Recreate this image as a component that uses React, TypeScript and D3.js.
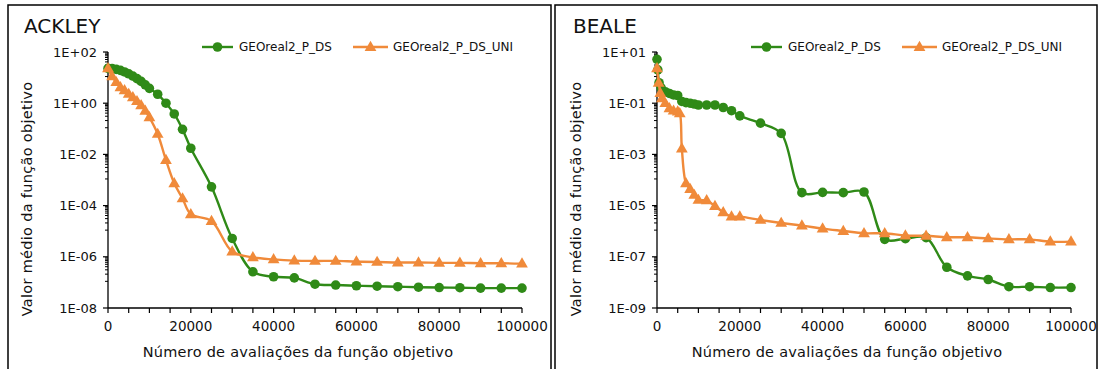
import React from "react";
import * as d3 from "d3";

// ---------- DATA ----------
const seriesNames = ["GEOreal2_P_DS", "GEOreal2_P_DS_UNI"];

const ackleyDsX = [0, 1000, 2000, 3000, 4000, 5000, 6000, 7000, 8000, 9000, 10000, 12000, 14000, 16000, 18000, 20000, 25000, 30000, 35000, 40000, 45000, 50000, 55000, 60000, 65000, 70000, 75000, 80000, 85000, 90000, 95000, 100000];
const ackleyDsY = [22.9, 22.4, 20.9, 19.1, 16.6, 14.1, 11.5, 9.1, 7.1, 5.2, 3.8, 2.24, 1.0, 0.38, 0.095, 0.0174, 5.4e-4, 5.2e-6, 2.6e-7, 1.66e-7, 1.5e-7, 8.5e-8, 7.9e-8, 7.4e-8, 7.1e-8, 6.8e-8, 6.5e-8, 6.3e-8, 6.2e-8, 6.0e-8, 6.0e-8, 6.0e-8];

const ackleyUniX = [0, 1000, 2000, 3000, 4000, 5000, 6000, 7000, 8000, 9000, 10000, 12000, 14000, 16000, 18000, 20000, 25000, 30000, 35000, 40000, 45000, 50000, 55000, 60000, 65000, 70000, 75000, 80000, 85000, 90000, 95000, 100000];
const ackleyUniY = [22.9, 11.2, 6.6, 4.2, 3.2, 2.3, 1.7, 1.2, 0.83, 0.5, 0.28, 0.063, 6.0e-3, 7.4e-4, 1.9e-4, 4.6e-5, 2.5e-5, 1.6e-6, 9.5e-7, 7.9e-7, 7.1e-7, 6.9e-7, 6.9e-7, 6.5e-7, 6.3e-7, 6.0e-7, 6.0e-7, 5.8e-7, 5.8e-7, 5.6e-7, 5.6e-7, 5.4e-7];

const bealeDsX = [0, 200, 500, 1000, 2000, 3000, 4000, 5000, 6000, 7000, 8000, 9000, 10000, 12000, 14000, 16000, 18000, 20000, 25000, 30000, 35000, 40000, 45000, 50000, 55000, 60000, 65000, 70000, 75000, 80000, 85000, 90000, 95000, 100000];
const bealeDsY = [5.2, 2.0, 0.63, 0.4, 0.28, 0.24, 0.21, 0.2, 0.117, 0.105, 0.1, 0.093, 0.085, 0.085, 0.085, 0.068, 0.051, 0.032, 0.0166, 6.6e-3, 3.2e-5, 3.3e-5, 3.2e-5, 3.4e-5, 4.8e-7, 5.1e-7, 5.6e-7, 3.9e-8, 1.8e-8, 1.3e-8, 6.8e-9, 6.8e-9, 6.3e-9, 6.3e-9];

const bealeUniX = [0, 400, 800, 1200, 2000, 3000, 4000, 5000, 5500, 6000, 7000, 8000, 9000, 10000, 12000, 14000, 16000, 18000, 20000, 25000, 30000, 35000, 40000, 45000, 50000, 55000, 60000, 65000, 70000, 75000, 80000, 85000, 90000, 95000, 100000];
const bealeUniY = [2.3, 0.63, 0.25, 0.155, 0.1, 0.063, 0.051, 0.047, 0.04, 1.7e-3, 7.4e-5, 4.4e-5, 2.6e-5, 1.66e-5, 1.6e-5, 9.5e-6, 5.5e-6, 3.7e-6, 3.7e-6, 2.75e-6, 2.1e-6, 1.66e-6, 1.26e-6, 1.02e-6, 8.3e-7, 8.3e-7, 6.8e-7, 6.6e-7, 5.8e-7, 5.8e-7, 5.2e-7, 4.8e-7, 4.8e-7, 3.9e-7, 3.9e-7];

const xTickLabels = [0, 20000, 40000, 60000, 80000, 100000];
const ackleyYTicks = [1e2, 1e0, 1e-2, 1e-4, 1e-6, 1e-8];
const bealeYTicks = [1e1, 1e-1, 1e-3, 1e-5, 1e-7, 1e-9];

// ---------- STYLE ----------
const GREEN = "#2f8a17";
const ORANGE = "#f08a3a";
const FONT = "'DejaVu Sans', sans-serif";

type Series = { xs: number[]; ys: number[]; color: string; marker: "circle" | "triangle" };

function fmtExp(v: number) {
  const e = Math.round(Math.log10(v));
  return `1E${e >= 0 ? "+" : "-"}${String(Math.abs(e)).padStart(2, "0")}`;
}

const triPath = d3.symbol().type(d3.symbolTriangle).size(60)() as string;

function Marker({ type, x, y, color }: { type: string; x: number; y: number; color: string }) {
  if (type === "circle") return <circle cx={x} cy={y} r={4.8} fill={color} />;
  return <path d={triPath} transform={`translate(${x},${y + 0.5})`} fill={color} />;
}

function Panel({ ox, title, yTicks, series }: { ox: number; title: string; yTicks: number[]; series: Series[] }) {
  const x = d3.scaleLinear().domain([0, 100000]).range([ox + 108, ox + 522]);
  const yMin = d3.min(yTicks)!;
  const yMax = d3.max(yTicks)!;
  const y = d3.scaleLog().domain([yMin, yMax]).range([308, 52]);
  const x0 = x(0);
  const yb = y(yMin);

  const minorY: number[] = [];
  const sorted = [...yTicks].sort((a, b) => a - b);
  for (let i = 0; i < sorted.length - 1; i++) {
    const step = sorted[i + 1] / 10;
    for (let m = 1; m <= 9; m++) minorY.push(sorted[i] + m * step);
  }
  const minorX = d3.range(0, 100001, 5000);

  const line = d3
    .line<[number, number]>()
    .x((d) => x(d[0]))
    .y((d) => y(d[1]))
    .curve(d3.curveCatmullRom.alpha(0.5));

  const leg = [
    { x1: ox + 202, x2: ox + 233, tx: ox + 239 },
    { x1: ox + 353, x2: ox + 388, tx: ox + 393 },
  ];

  return (
    <g>
      <text x={ox + 24} y={33} fontFamily={FONT} fontSize={20} fill="#111">
        {title}
      </text>
      {/* y axis */}
      <line x1={x0} x2={x0} y1={y(yMax)} y2={yb} stroke="#000" strokeWidth={1.3} />
      {minorY.map((v, i) => (
        <line key={"my" + i} x1={x0 - 3} x2={x0} y1={y(v)} y2={y(v)} stroke="#000" strokeWidth={1} />
      ))}
      {yTicks.map((v) => (
        <g key={"y" + v}>
          <line x1={x0 - 5} x2={x0} y1={y(v)} y2={y(v)} stroke="#000" strokeWidth={1.2} />
          <text x={x0 - 11} y={y(v)} dy="0.35em" textAnchor="end" fontFamily={FONT} fontSize={13} fill="#111">
            {fmtExp(v)}
          </text>
        </g>
      ))}
      {/* x axis */}
      <line x1={x0} x2={x(100000)} y1={yb} y2={yb} stroke="#000" strokeWidth={1.3} />
      {minorX.map((v) => (
        <line key={"mx" + v} x1={x(v)} x2={x(v)} y1={yb} y2={yb + 5} stroke="#000" strokeWidth={1.2} />
      ))}
      {xTickLabels.map((v) => (
        <text key={"xl" + v} x={x(v)} y={yb + 23} textAnchor="middle" fontFamily={FONT} fontSize={13.5} fill="#111">
          {v}
        </text>
      ))}
      <text
        x={ox + 298}
        y={yb + 49}
        textAnchor="middle"
        fontFamily={FONT}
        fontSize={14.5}
        letterSpacing={0.25}
        fill="#111"
      >
        Número de avaliações da função objetivo
      </text>
      <text
        transform={`translate(${ox + 32},${199}) rotate(-90)`}
        textAnchor="middle"
        fontFamily={FONT}
        fontSize={14.5}
        letterSpacing={0.3}
        fill="#111"
      >
        Valor médio da função objetivo
      </text>
      {/* series */}
      {series.map((s, si) => {
        const pts = s.xs.map((xv, i) => [xv, s.ys[i]] as [number, number]);
        return (
          <g key={"s" + si}>
            <path d={line(pts) || ""} fill="none" stroke={s.color} strokeWidth={2.4} />
            {pts.map((p, i) => (
              <Marker key={i} type={s.marker} x={x(p[0])} y={y(p[1])} color={s.color} />
            ))}
          </g>
        );
      })}
      {/* legend */}
      {series.map((s, si) => (
        <g key={"l" + si}>
          <line x1={leg[si].x1} x2={leg[si].x2} y1={47} y2={47} stroke={s.color} strokeWidth={2.4} />
          <Marker type={s.marker} x={(leg[si].x1 + leg[si].x2) / 2} y={47} color={s.color} />
          <text x={leg[si].tx} y={47} dy="0.35em" fontFamily={FONT} fontSize={12} fill="#111">
            {seriesNames[si]}
          </text>
        </g>
      ))}
    </g>
  );
}

export default function App() {
  return (
    <svg
      width={1099}
      height={369}
      style={{ position: "absolute", left: 0, top: 0, background: "#fff" }}
    >
      <rect x={0} y={0} width={1099} height={369} fill="#fff" />
      <rect x={8} y={5} width={543} height={380} fill="none" stroke="#000" strokeWidth={1.5} />
      <rect x={555} y={5} width={542} height={380} fill="none" stroke="#000" strokeWidth={1.5} />
      <Panel
        ox={0}
        title="ACKLEY"
        yTicks={ackleyYTicks}
        series={[
          { xs: ackleyDsX, ys: ackleyDsY, color: GREEN, marker: "circle" },
          { xs: ackleyUniX, ys: ackleyUniY, color: ORANGE, marker: "triangle" },
        ]}
      />
      <Panel
        ox={549}
        title="BEALE"
        yTicks={bealeYTicks}
        series={[
          { xs: bealeDsX, ys: bealeDsY, color: GREEN, marker: "circle" },
          { xs: bealeUniX, ys: bealeUniY, color: ORANGE, marker: "triangle" },
        ]}
      />
    </svg>
  );
}
